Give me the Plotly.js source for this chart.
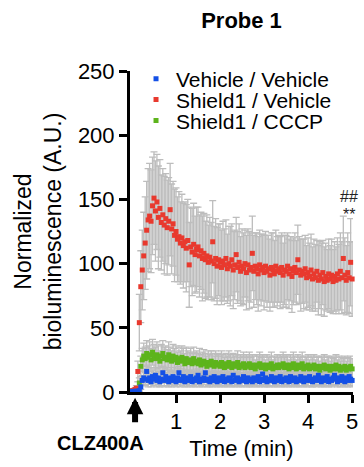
<!DOCTYPE html>
<html>
<head>
<meta charset="utf-8">
<script src="https://cdn.plot.ly/plotly-3.0.1.min.js"></script>
<style>html,body{margin:0;padding:0;background:#fff;}#chart{width:364px;height:467px;}</style>
</head>
<body>
<div id="chart"></div>
<script>
// Sampling interval: one reading every 2 s (1/30 min)
const sampleIntervalMin = 2 / 60;

const seriesNames = ["Vehicle / Vehicle", "Shield1 / Vehicle", "Shield1 / CCCP"];
const seriesColors = ["#1450e6", "#e8392e", "#5db41c"];

const vehicleMean = [
0.5,0.4,0.5,0.6,0.5,1.0,4,9,11,10,16,9,11,8,12,10,13,9,11,8,
10,15,9,12,10,8,11,9,12,10,8,11,15,9,10,12,8,11,9,10,
12,8,10,9,11,13,8,10,9,11,15,9,10,8,11,9,12,10,8,11,
9,10,12,8,10,9,11,10,8,13,9,10,11,8,10,9,12,10,8,11,
9,10,8,11,10,9,12,8,10,14,9,11,8,10,9,12,10,8,11,9,
10,12,8,10,9,11,10,8,12,9,10,11,8,10,9,12,10,8,11,9,
10,12,9,8,10,11,9,13,10,8,11,9,10,12,8,10,9,11,13,10,
8,11,9,12,10,8,11,9,12,10,9];
const vehicleSD = [
0.3,0.3,0.3,0.3,0.4,0.6,2,4,5,5,5,5,5,4,5,5,5,5,5,4,
5,5,5,5,5,4,5,5,5,5,4,5,5,5,5,5,4,5,5,5,
5,4,5,5,5,5,4,5,5,5,5,5,5,4,5,5,5,5,4,5,
5,5,5,4,5,5,5,5,4,5,5,5,5,4,5,5,5,5,4,5,
5,5,4,5,5,5,5,4,5,5,5,5,4,5,5,5,5,4,5,5,
5,5,4,5,5,5,5,4,5,5,5,5,4,5,5,5,5,4,5,5,
5,5,5,4,5,5,5,5,5,4,5,5,5,5,4,5,5,5,5,5,
4,5,5,5,5,4,5,5,5,5,5];

const shield1Mean = [
1,1,2,3,16,54,82,95,106,116,126,134,137,133,145,151,141,148,136,143,
132,138,130,135,128,133,142,127,131,122,125,119,121,116,120,114,117,112,118,99,
113,109,115,107,111,113,106,110,104,108,103,106,101,105,102,117,100,104,98,103,
101,97,102,99,104,96,100,98,103,95,99,107,97,101,94,98,96,100,93,99,
95,97,108,94,98,96,92,99,95,97,93,98,94,96,91,97,95,92,98,94,
96,93,97,91,95,94,98,92,96,90,94,97,93,103,95,91,94,92,96,89,
93,90,95,88,92,89,94,87,91,88,93,86,90,87,92,88,91,86,90,87,
92,88,94,89,104,91,87,93,89,101,88];
const shield1SD = [
1,1,1,2,8,22,28,31,34,36,38,40,41,40,38,36,39,37,40,38,
37,36,38,35,37,34,36,35,33,36,34,33,35,32,34,33,31,34,32,33,
31,34,32,30,33,31,32,30,33,31,30,32,29,31,30,32,29,31,30,28,
30,29,31,28,30,27,29,31,28,30,27,29,28,30,27,29,28,26,29,28,
30,27,29,28,26,28,29,27,28,26,29,27,28,26,28,27,29,26,28,27,
26,28,27,25,27,28,26,27,25,28,26,27,25,27,26,28,25,27,26,25,
27,26,28,25,27,26,24,27,26,28,25,27,26,24,27,26,28,25,27,26,
28,27,30,28,33,29,27,31,28,34,29];

const cccpMean = [
0.8,1,1,1.2,1.5,7,20,25,28,26,30,27,29,25,31,28,26,29,27,24,
28,30,26,27,25,29,26,24,28,25,27,23,26,24,27,25,22,26,24,23,
25,22,26,23,24,22,25,21,23,24,22,20,23,21,24,22,20,23,21,22,
20,23,21,19,22,20,23,21,19,22,20,21,23,19,21,20,22,19,21,20,
22,19,21,20,18,21,20,22,19,21,20,18,21,19,20,22,18,20,19,21,
19,21,20,22,19,21,20,18,21,19,22,20,18,21,19,20,22,18,20,19,
21,18,20,19,21,18,20,19,17,20,19,21,18,20,19,17,20,18,19,21,
18,20,17,19,18,20,17,19,18,20,18];
const cccpSD = [
0.5,0.6,0.6,0.7,0.8,4,8,9,10,9,10,9,10,9,10,9,9,10,9,8,
9,10,9,9,8,10,9,8,9,9,9,8,9,8,9,9,8,9,8,8,
9,8,9,8,8,8,9,8,8,9,8,8,9,8,8,8,8,9,8,8,
8,9,8,8,8,8,9,8,8,8,8,8,9,8,8,8,9,8,8,8,
9,8,8,8,7,8,8,9,8,8,8,7,8,8,8,9,7,8,8,8,
8,8,8,9,8,8,8,7,8,8,9,8,7,8,8,8,9,7,8,8,
8,7,8,8,8,7,8,8,7,8,8,8,7,8,8,7,8,8,8,8,
7,8,7,8,8,8,7,8,8,8,8];

const xTickVals = [1, 2, 3, 4, 5];
const yTickVals = [0, 50, 100, 150, 200, 250];

const means = [vehicleMean, shield1Mean, cccpMean];
const sds = [vehicleSD, shield1SD, cccpSD];
const timeMin = shield1Mean.map((_, i) => i * sampleIntervalMin);

const FONT = "Liberation Sans, Arial, Helvetica, sans-serif";
const legendIds = ["legend", "legend2", "legend3"];

const errorTraces = [1, 2, 0].map(k => ({
  x: timeMin, y: means[k], type: "scatter", mode: "markers",
  marker: {size: 5, opacity: 0},
  error_y: {type: "data", array: sds[k], visible: true, color: "#bdbdbd", thickness: 1.3, width: 3.5},
  showlegend: false, hoverinfo: "skip", cliponaxis: false
}));
const markerTraces = [2, 1, 0].map(k => ({
  x: timeMin, y: means[k], type: "scatter", mode: "markers",
  name: seriesNames[k],
  marker: {symbol: "square", size: 5, color: seriesColors[k]},
  legend: legendIds[k], cliponaxis: false
}));

const legendYs = [0.975, 0.91, 0.845];
const legendBase = {x: 0.027, xanchor: "left", yanchor: "middle", bgcolor: "rgba(0,0,0,0)", borderwidth: 0,
  font: {family: FONT, size: 21, color: "#000"}};

const axisCommon = {
  showline: true, linewidth: 3, linecolor: "#000", showgrid: false, zeroline: false,
  ticks: "outside", ticklen: 8, tickwidth: 3, tickcolor: "#000",
  tickfont: {family: FONT, size: 22, color: "#000"}, fixedrange: true
};

const layout = {
  width: 364, height: 467,
  margin: {l: 130, r: 11, t: 71, b: 75},
  paper_bgcolor: "#fff", plot_bgcolor: "#fff",
  font: {family: FONT, color: "#000"},
  title: {text: "<b>Probe 1</b>", x: 0.5, xref: "paper", y: 0.957, yanchor: "middle",
    font: {family: FONT, size: 22, color: "#000"}},
  xaxis: Object.assign({}, axisCommon, {
    range: [-0.045, 5.02], tickvals: xTickVals, ticktext: xTickVals.map(String),
    title: {text: "Time (min)", font: {family: FONT, size: 22, color: "#000"}, standoff: 8}
  }),
  yaxis: Object.assign({}, axisCommon, {
    range: [0, 250], tickvals: yTickVals, ticktext: yTickVals.map(String),
    title: {text: "Normalized<br>bioluminescence (A.U.)", font: {family: FONT, size: 23, color: "#000"}, standoff: 10}
  }),
  legend: Object.assign({}, legendBase, {y: legendYs[0]}),
  legend2: Object.assign({}, legendBase, {y: legendYs[1]}),
  legend3: Object.assign({}, legendBase, {y: legendYs[2]}),
  annotations: [
    {xref: "x", yref: "paper", x: 0.07, y: -0.018, ax: 0, ay: 26, text: "", showarrow: true,
     arrowhead: 2, arrowsize: 0.55, arrowwidth: 6, arrowcolor: "#000", standoff: 0},
    {xref: "paper", yref: "paper", x: -0.1345, y: -0.159, text: "<b>CLZ400A</b>", showarrow: false,
     xanchor: "center", yanchor: "middle", font: {family: FONT, size: 20, color: "#000"}},
    {xref: "x", yref: "y", x: 4.93, y: 152, text: "##", showarrow: false,
     xanchor: "center", yanchor: "middle", font: {family: FONT, size: 16, color: "#222"}},
    {xref: "x", yref: "y", x: 4.93, y: 138, text: "**", showarrow: false,
     xanchor: "center", yanchor: "middle", font: {family: FONT, size: 16, color: "#222"}}
  ]
};

Plotly.newPlot("chart", errorTraces.concat(markerTraces), layout, {displayModeBar: false, staticPlot: true});
</script>
</body>
</html>
